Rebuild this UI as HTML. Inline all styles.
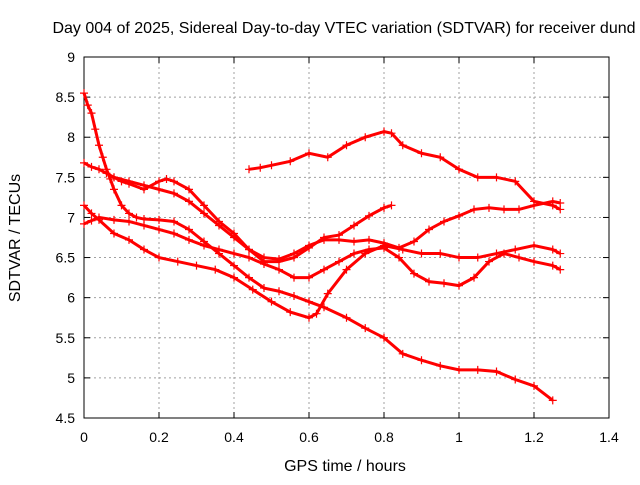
<!DOCTYPE html>
<html><head><meta charset="utf-8"><style>
body{margin:0;background:#fff}
svg{font-family:"Liberation Sans",sans-serif;font-size:14px}
</style></head><body>
<svg id="c" width="640" height="480"></svg>
<script>
const xTicks=[0,0.2,0.4,0.6,0.8,1,1.2,1.4];
const xTickLabels=["0","0.2","0.4","0.6","0.8","1","1.2","1.4"];
const yTicks=[4.5,5,5.5,6,6.5,7,7.5,8,8.5,9];
const yTickLabels=["4.5","5","5.5","6","6.5","7","7.5","8","8.5","9"];
const sPx=[0,0.01,0.02,0.03,0.04,0.05,0.06,0.07,0.08,0.1,0.12,0.14,0.16,0.2,0.24,0.28,0.32,0.36,0.4,0.44,0.48,0.52,0.56,0.6,0.64,0.7,0.75,0.8,0.85,0.9,0.95,1.0,1.05,1.1,1.15,1.2,1.25];
const sPy=[8.55,8.4,8.3,8.1,7.9,7.75,7.6,7.48,7.35,7.15,7.05,7.0,6.98,6.97,6.95,6.85,6.7,6.55,6.4,6.25,6.12,6.08,6.02,5.95,5.88,5.75,5.62,5.5,5.3,5.22,5.15,5.1,5.1,5.08,4.98,4.9,4.72];
const sQx=[0,0.02,0.04,0.06,0.08,0.12,0.16,0.2,0.24,0.28,0.32,0.36,0.4,0.44,0.48,0.52,0.56,0.6,0.64,0.68,0.72,0.76,0.8,0.82];
const sQy=[7.68,7.63,7.6,7.55,7.5,7.45,7.4,7.35,7.3,7.2,7.05,6.9,6.75,6.6,6.45,6.45,6.5,6.62,6.75,6.78,6.9,7.02,7.12,7.15];
const sRx=[0.44,0.47,0.5,0.55,0.6,0.65,0.7,0.75,0.8,0.82,0.85,0.9,0.95,1.0,1.05,1.1,1.15,1.2,1.25,1.27];
const sRy=[7.6,7.62,7.65,7.7,7.8,7.75,7.9,8.0,8.07,8.05,7.9,7.8,7.75,7.6,7.5,7.5,7.45,7.2,7.15,7.1];
const sSx=[0,0.02,0.04,0.08,0.12,0.16,0.2,0.25,0.3,0.35,0.4,0.45,0.5,0.55,0.6,0.62,0.65,0.7,0.75,0.8,0.85,0.9,0.95,1.0,1.05,1.1,1.15,1.2,1.25,1.27];
const sSy=[7.15,7.05,6.97,6.8,6.72,6.6,6.5,6.45,6.4,6.35,6.25,6.1,5.95,5.82,5.75,5.8,6.05,6.35,6.55,6.65,6.6,6.55,6.55,6.5,6.5,6.55,6.6,6.65,6.6,6.55];
const sTx=[0,0.02,0.04,0.08,0.12,0.16,0.2,0.24,0.28,0.32,0.36,0.4,0.44,0.48,0.52,0.56,0.6,0.64,0.68,0.72,0.76,0.8,0.84,0.88,0.92,0.96,1.0,1.04,1.08,1.12,1.16,1.2,1.25,1.27];
const sTy=[6.92,6.96,7.0,6.97,6.95,6.9,6.85,6.8,6.72,6.65,6.6,6.55,6.5,6.42,6.35,6.25,6.25,6.35,6.45,6.55,6.6,6.62,6.5,6.3,6.2,6.18,6.15,6.25,6.45,6.55,6.5,6.45,6.4,6.35];
const sUx=[0.08,0.1,0.12,0.16,0.2,0.22,0.24,0.28,0.32,0.36,0.4,0.44,0.48,0.52,0.56,0.6,0.64,0.68,0.72,0.76,0.8,0.84,0.88,0.92,0.96,1.0,1.04,1.08,1.12,1.16,1.2,1.25,1.27];
const sUy=[7.5,7.45,7.42,7.35,7.45,7.48,7.45,7.35,7.15,6.95,6.8,6.6,6.5,6.48,6.55,6.65,6.72,6.72,6.7,6.72,6.68,6.62,6.7,6.85,6.95,7.02,7.1,7.12,7.1,7.1,7.15,7.2,7.18];
const seriesX=[sPx,sQx,sRx,sSx,sTx,sUx];
const seriesY=[sPy,sQy,sRy,sSy,sTy,sUy];

const L=84,R=609,T=57,B=418;
const xs=v=>L+(v-0)/1.4*(R-L);
const ys=v=>B-(v-4.5)/4.5*(B-T);
const svg=document.getElementById('c');
const NS='http://www.w3.org/2000/svg';
function mk(tag,attrs,parent){const e=document.createElementNS(NS,tag);for(const k in attrs)e.setAttribute(k,attrs[k]);(parent||svg).appendChild(e);return e;}

const grid=mk('g',{});


xTicks.forEach((v,i)=>{
  const x=xs(v);
  if(i>0&&i<xTicks.length-1){const g=mk('line',{x1:x,x2:x,y1:T,y2:B,stroke:'#a0a0a0','stroke-dasharray':'2,3'},grid);}
  mk('line',{x1:x,x2:x,y1:B,y2:B-6,stroke:'#000'});
  mk('line',{x1:x,x2:x,y1:T,y2:T+6,stroke:'#000'});
  const t=mk('text',{x:x,y:B+24,'text-anchor':'middle'});t.textContent=xTickLabels[i];
  
  
});
yTicks.forEach((v,i)=>{
  const y=ys(v);
  if(i>0&&i<yTicks.length-1){const g=mk('line',{x1:L,x2:R,y1:y,y2:y,stroke:'#a0a0a0','stroke-dasharray':'2,3'},grid);}
  mk('line',{x1:L,x2:L+6,y1:y,y2:y,stroke:'#000'});
  mk('line',{x1:R,x2:R-6,y1:y,y2:y,stroke:'#000'});
  const t=mk('text',{x:L-9,y:y+5,'text-anchor':'end'});t.textContent=yTickLabels[i];
  
  
});
const box=mk('rect',{x:L,y:T,width:R-L,height:B-T,fill:'none',stroke:'#000'});



seriesX.forEach((xa,si)=>{
  const g=mk('g',{stroke:'#ff0000','stroke-width':1.2,fill:'none'});
  
  
  const pts=xa.map((xv,j)=>xs(xv)+','+ys(seriesY[si][j])).join(' ');
  const pl=mk('polyline',{points:pts,'stroke-width':3},g);
  
  
  xa.forEach((xv,j)=>{
    const x=xs(xv),y=ys(seriesY[si][j]);
    const p=mk('path',{d:`M${x-4},${y}H${x+4}M${x},${y-4}V${y+4}`},g);
    
    
  });
});

const title=mk('text',{x:344,y:33,'text-anchor':'middle','font-size':'16px'});
title.textContent='Day 004 of 2025, Sidereal Day-to-day VTEC variation (SDTVAR) for receiver dund';


const xl=mk('text',{x:345,y:471,'text-anchor':'middle','font-size':'16px'});
xl.textContent='GPS time / hours';


const yl=mk('text',{x:0,y:0,'text-anchor':'middle','font-size':'16px',transform:'translate(20,238) rotate(-90)'});
yl.textContent='SDTVAR / TECUs';


</script>
</body></html>
